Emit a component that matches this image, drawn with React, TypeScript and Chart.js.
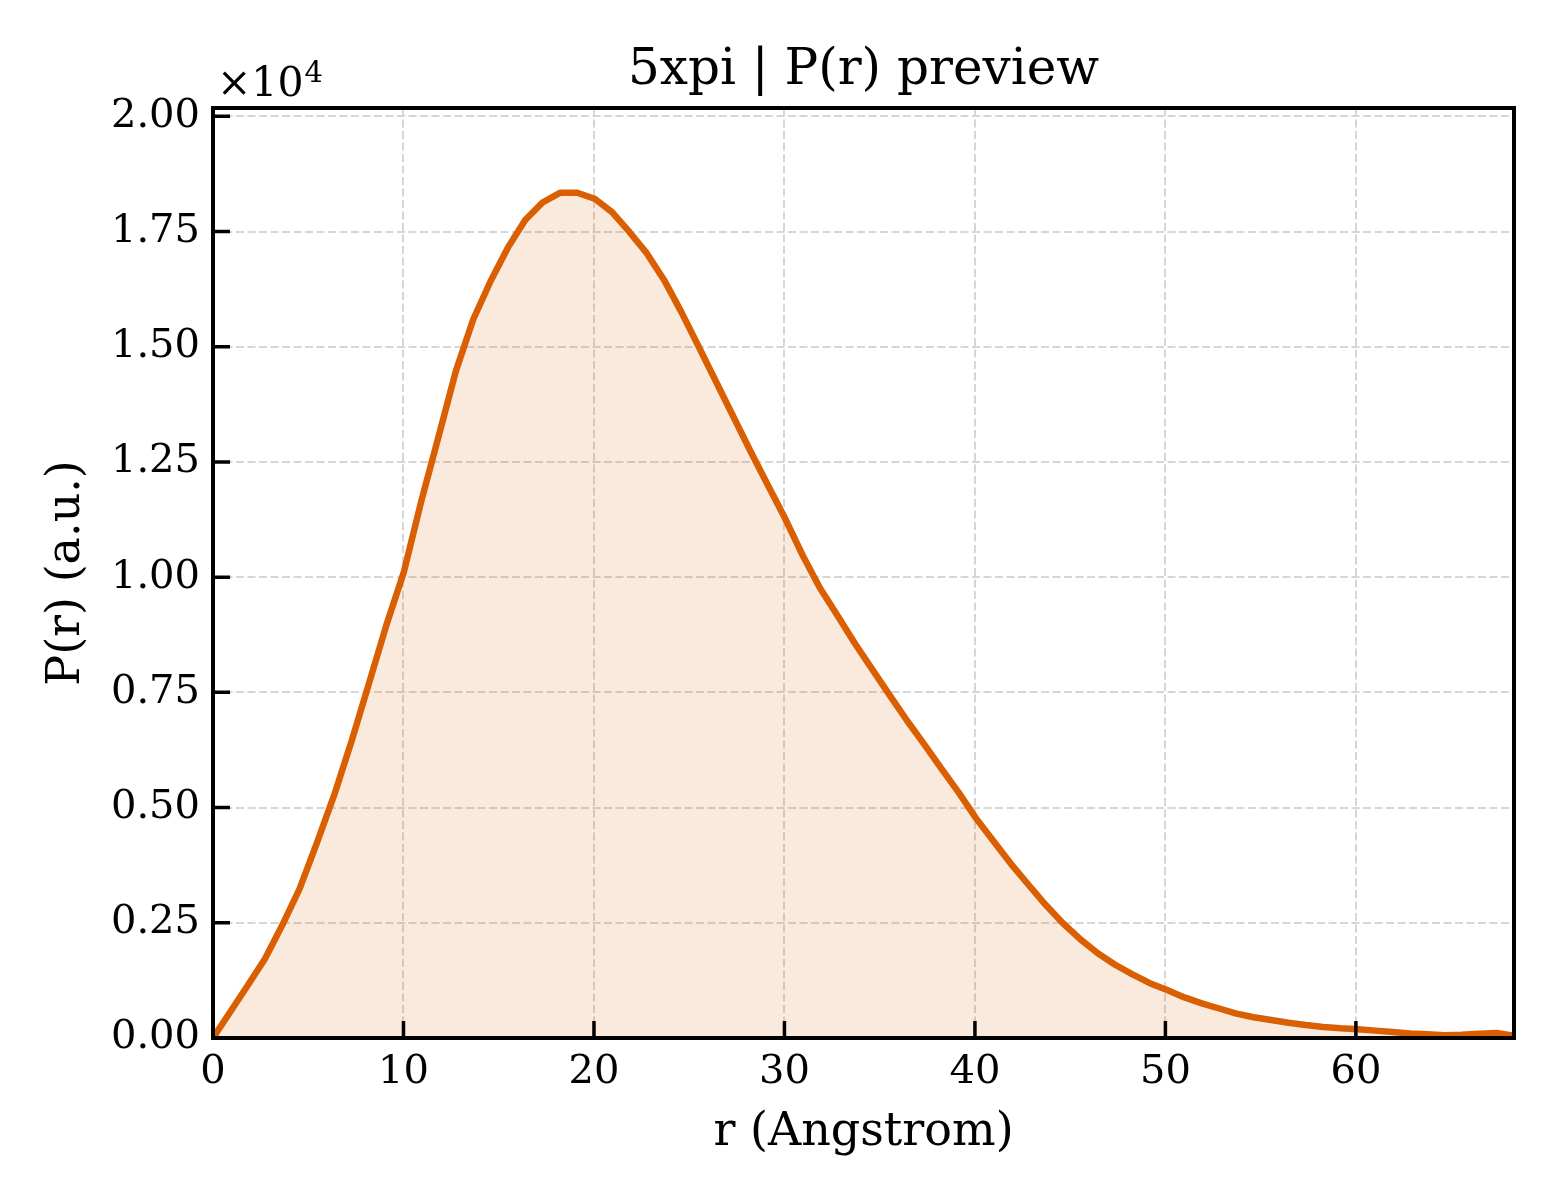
import { useEffect, useRef } from "react";
import { Chart, registerables } from "chart.js";

Chart.register(...registerables);

// r (Angstrom) sample positions
const rValues = [
  0, 0.91, 1.82, 2.73, 3.64, 4.55, 5.46, 6.37, 7.29, 8.2,
  9.11, 10.02, 10.93, 11.84, 12.75, 13.66, 14.57, 15.48, 16.39, 17.3,
  18.21, 19.12, 20.04, 20.95, 21.86, 22.77, 23.68, 24.59, 25.5, 26.41,
  27.32, 28.23, 29.14, 30.05, 30.96, 31.87, 32.79, 33.7, 34.61, 35.52,
  36.43, 37.34, 38.25, 39.16, 40.07, 40.98, 41.89, 42.8, 43.71, 44.62,
  45.54, 46.45, 47.36, 48.27, 49.18, 50.09, 51.0, 51.91, 52.82, 53.73,
  54.64, 55.55, 56.46, 57.37, 58.28, 59.2, 60.11, 61.02, 61.93, 62.84,
  63.75, 64.66, 65.57, 66.48, 67.39, 68.3,
];

// P(r) in arbitrary units
const pValues = [
  0, 570, 1140, 1720, 2450, 3240, 4240, 5280, 6460, 7710,
  8970, 10110, 11640, 13050, 14470, 15590, 16420, 17150, 17750, 18130,
  18340, 18340, 18210, 17920, 17490, 17030, 16450, 15750, 15000, 14240,
  13480, 12720, 11990, 11260, 10470, 9760, 9160, 8560, 8000, 7440,
  6890, 6370, 5840, 5320, 4760, 4270, 3780, 3330, 2890, 2490,
  2140, 1840, 1590, 1380, 1190, 1040, 880, 750, 640, 530,
  450, 390, 330, 280, 240, 210, 190, 160, 130, 100,
  80, 60, 70, 90, 110, 50,
];

const xMax = 68.3;
const yMax = 20180;
const xTicks = [0, 10, 20, 30, 40, 50, 60];
const yTicks = [0, 2500, 5000, 7500, 10000, 12500, 15000, 17500, 20000];
const yScaleExp = 4;

const chartTitle = "5xpi | P(r) preview";
const xLabel = "r (Angstrom)";
const yLabel = "P(r) (a.u.)";

const SERIF = "'DejaVu Serif', serif";
const LINE_COLOR = "#d95f02";

// matplotlib-ish frame: box spines, inward ticks, title and offset text
const framePlugin = {
  id: "frame",
  afterDraw(chart: any) {
    const { ctx, chartArea: a, scales } = chart;
    ctx.save();
    ctx.strokeStyle = "#000";
    ctx.lineWidth = 3.5;
    ctx.beginPath();
    scales.x.ticks.forEach((t: any) => {
      const px = scales.x.getPixelForValue(t.value);
      ctx.moveTo(px, a.bottom);
      ctx.lineTo(px, a.bottom - 17);
    });
    scales.y.ticks.forEach((t: any) => {
      const py = scales.y.getPixelForValue(t.value);
      ctx.moveTo(a.left, py);
      ctx.lineTo(a.left + 17, py);
    });
    ctx.stroke();

    ctx.lineWidth = 4;
    ctx.strokeRect(a.left, a.top, a.right - a.left, a.bottom - a.top);

    ctx.fillStyle = "#000";
    ctx.textBaseline = "alphabetic";
    ctx.textAlign = "center";
    ctx.font = `50px ${SERIF}`;
    ctx.fillText(chartTitle, (a.left + a.right) / 2, 84);

    ctx.textAlign = "left";
    ctx.font = `41px ${SERIF}`;
    const base = "\u00d710";
    ctx.fillText(base, a.left + 4, 96);
    const w = ctx.measureText(base).width;
    ctx.font = `29px ${SERIF}`;
    ctx.fillText(String(yScaleExp), a.left + 4 + w + 1, 82);
    ctx.restore();
  },
};

export default function App() {
  const canvasRef = useRef<HTMLCanvasElement>(null);

  useEffect(() => {
    if (!canvasRef.current) return;

    const tickFont = { family: SERIF, size: 40 };
    const labelFont = { family: SERIF, size: 46 };

    const chart = new Chart(canvasRef.current, {
      type: "line",
      data: {
        datasets: [
          {
            data: rValues.map((r, i) => ({ x: r, y: pValues[i] })),
            borderColor: LINE_COLOR,
            borderWidth: 6.5,
            borderJoinStyle: "round",
            backgroundColor: "rgba(217, 95, 2, 0.13)",
            fill: "origin",
            pointRadius: 0,
            tension: 0,
          },
        ],
      },
      options: {
        animation: false,
        responsive: false,
        devicePixelRatio: 1,
        layout: { padding: { top: 108, right: 46, bottom: 0, left: 0 } },
        plugins: {
          legend: { display: false },
          title: { display: false },
          tooltip: { enabled: false },
        },
        scales: {
          x: {
            type: "linear",
            min: 0,
            max: xMax,
            afterFit: (s: any) => {
              s.height = 162;
            },
            afterBuildTicks: (s: any) => {
              s.ticks = xTicks.map((v) => ({ value: v }));
            },
            ticks: {
              padding: 11,
              color: "#000",
              font: tickFont,
              maxRotation: 0,
              autoSkip: false,
              callback: (v: any) => String(v),
            },
            grid: { color: "#d6d6d6", lineWidth: 2, drawTicks: false },
            border: { display: false, dash: [8, 3.5] },
            title: {
              display: true,
              text: xLabel,
              color: "#000",
              font: labelFont,
              padding: { top: 0, bottom: 39 },
            },
          },
          y: {
            type: "linear",
            min: 0,
            max: yMax,
            afterFit: (s: any) => {
              s.width = 213;
            },
            afterBuildTicks: (s: any) => {
              s.ticks = yTicks.map((v) => ({ value: v }));
            },
            ticks: {
              padding: 13,
              color: "#000",
              font: tickFont,
              autoSkip: false,
              callback: (v: any) => (Number(v) / 10 ** yScaleExp).toFixed(2),
            },
            grid: { color: "#d6d6d6", lineWidth: 2, drawTicks: false },
            border: { display: false, dash: [8, 3.5] },
            title: {
              display: true,
              text: yLabel,
              color: "#000",
              font: labelFont,
              padding: { top: 39, bottom: 0 },
            },
          },
        },
      },
      plugins: [framePlugin],
    });

    return () => {
      chart.destroy();
    };
  }, []);

  return (
    <div style={{ position: "absolute", left: 0, top: 0, width: 1560, height: 1200, background: "#fff" }}>
      <canvas ref={canvasRef} width={1560} height={1200}></canvas>
    </div>
  );
}
